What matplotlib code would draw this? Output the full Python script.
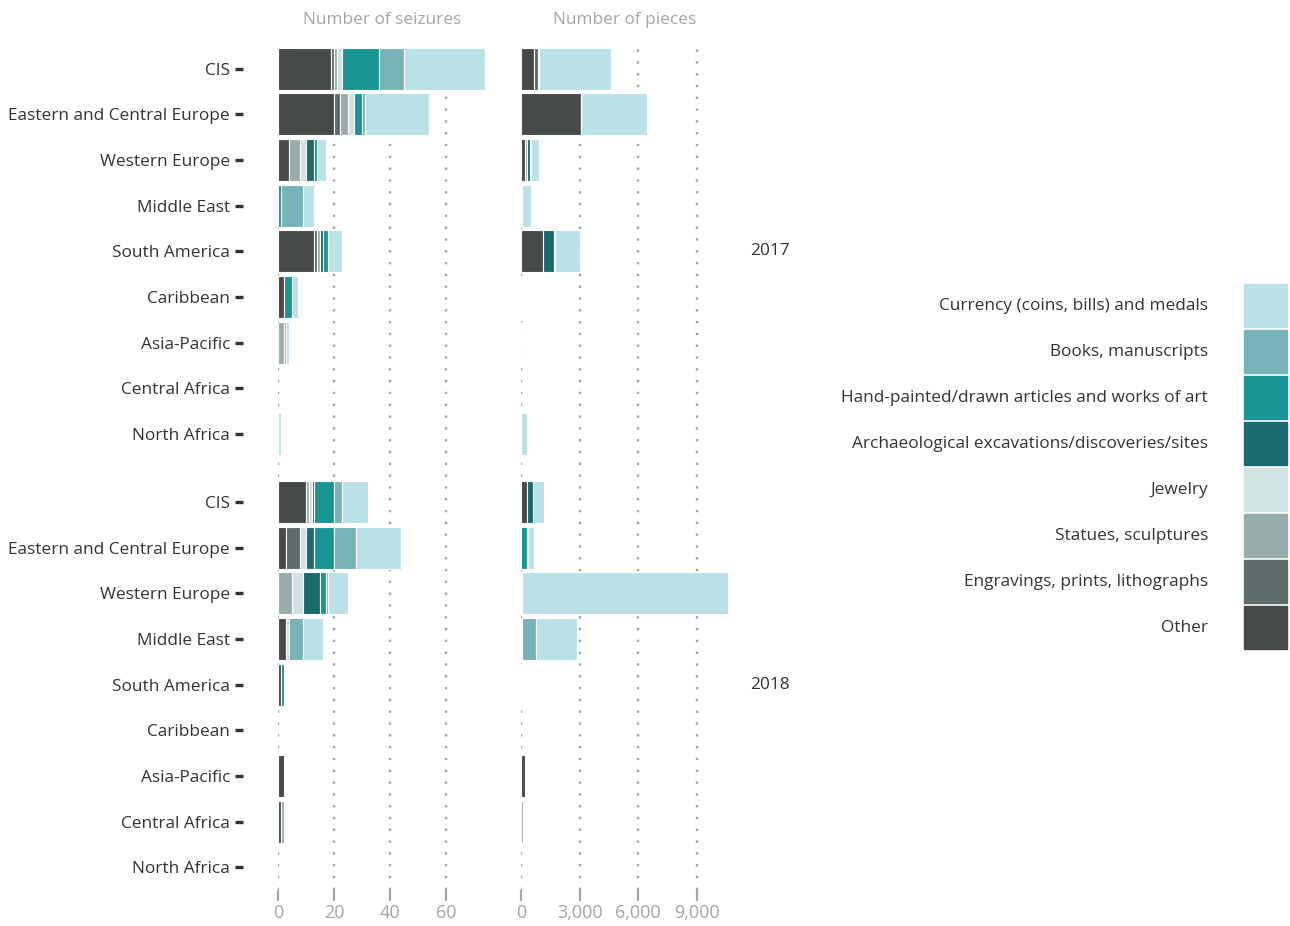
import matplotlib.pyplot as plt
import matplotlib.transforms as mtransforms
import numpy as np

plt.rcParams['font.family'] = ['Open Sans', 'DejaVu Sans']

regions = ['CIS', 'Eastern and Central Europe', 'Western Europe', 'Middle East',
           'South America', 'Caribbean', 'Asia-Pacific', 'Central Africa', 'North Africa']
years = ['2017', '2018']

categories = ['Other', 'Engravings, prints, lithographs', 'Statues, sculptures', 'Jewelry',
              'Archaeological excavations/discoveries/sites',
              'Hand-painted/drawn articles and works of art',
              'Books, manuscripts', 'Currency (coins, bills) and medals']
colors = ['#464a49', '#5d6b6a', '#98aeac', '#d0e2e1', '#1c6a70', '#1a9595', '#77b3b9', '#bae1e7']

# seizures, one row per region, columns in category order
seizures_2017 = [
    [19, 1, 1, 2, 0, 13, 9, 29],
    [20, 2, 3, 2, 0, 3, 1, 23],
    [4, 0, 4, 2, 3, 1, 0, 3],
    [0, 0, 0, 0, 0, 1, 8, 4],
    [13, 1, 1, 0, 1, 2, 0, 5],
    [2, 0, 0, 0, 0, 3, 0, 2],
    [0, 0, 2, 0, 0, 0, 1, 1],
    [0, 0, 0, 0, 0, 0, 0, 0],
    [0, 0, 0, 0, 0, 0, 0, 1],
]
seizures_2018 = [
    [10, 0, 1, 1, 1, 7, 3, 9],
    [3, 5, 0, 2, 3, 7, 8, 16],
    [0, 0, 5, 4, 6, 2, 1, 7],
    [3, 0, 0, 1, 0, 0, 5, 7],
    [1, 0, 0, 0, 0, 1, 0, 0],
    [0, 0, 0, 0, 0, 0, 0, 0],
    [2, 0, 0, 0, 0, 0, 0, 0],
    [1, 0, 1, 0, 0, 0, 0, 0],
    [0, 0, 0, 0, 0, 0, 0, 0],
]
# pieces
pieces_2017 = [
    [670, 220, 0, 0, 0, 50, 0, 3690],
    [3050, 0, 20, 0, 0, 0, 0, 3360],
    [220, 0, 70, 0, 190, 30, 0, 415],
    [0, 0, 0, 0, 0, 60, 0, 455],
    [1130, 0, 0, 0, 570, 50, 0, 1270],
    [0, 0, 0, 0, 0, 0, 0, 50],
    [0, 0, 0, 0, 0, 0, 0, 20],
    [0, 0, 0, 0, 0, 0, 0, 0],
    [0, 0, 0, 0, 0, 0, 0, 330],
]
pieces_2018 = [
    [330, 0, 0, 0, 270, 0, 0, 580],
    [0, 0, 0, 0, 0, 310, 70, 310],
    [0, 0, 0, 0, 50, 0, 0, 10590],
    [0, 0, 70, 0, 0, 0, 700, 2110],
    [30, 0, 0, 0, 0, 0, 0, 0],
    [0, 0, 0, 0, 0, 0, 0, 0],
    [200, 0, 0, 0, 0, 0, 0, 0],
    [0, 0, 80, 0, 0, 0, 0, 0],
    [0, 0, 0, 0, 0, 0, 0, 0],
]

text_col = '#333333'
grey = '#a5a5a5'
fs = 12.4

W, H = 1290, 926
fig = plt.figure(figsize=(W / 100, H / 100), dpi=100)

y17 = np.arange(len(regions))
y18 = y17 + 9.5
ypos = np.concatenate([y17, y18])


def px(x0, x1, y0, y1):
    return [x0 / W, 1 - y1 / H, (x1 - x0) / W, (y1 - y0) / H]


def panel(rect, d17, d18, xmax, ticks, ticklabels, title, show_y):
    ax = fig.add_axes(rect)
    data = np.vstack([np.array(d17), np.array(d18)]).astype(float)
    left = np.zeros(len(ypos))
    for j in range(len(categories)):
        vals = data[:, j]
        keep = vals > 0
        ax.barh(ypos[keep], vals[keep], left=left[keep], height=0.92, color=colors[j],
                edgecolor='white', linewidth=0.8, zorder=3)
        left += vals
    ax.set_xlim(0, xmax)
    ax.set_ylim(18, -0.5)
    for t in ticks:
        ax.axvline(t, color=grey, linewidth=1.7, linestyle=(0, (1, 4)), zorder=1)
    for s in ax.spines.values():
        s.set_visible(False)
    ax.set_xticks(ticks)
    ax.set_xticklabels(ticklabels)
    ax.tick_params(axis='x', length=8, width=1.6, color=grey, labelcolor=grey,
                   labelsize=13, pad=2)
    if show_y:
        ax.spines['left'].set_position(('outward', 25))
        ax.set_yticks(ypos)
        ax.set_yticklabels(regions * 2)
        ax.tick_params(axis='y', length=5.5, width=2.4, color='#333333',
                       labelcolor=text_col, labelsize=fs, pad=4)
    else:
        ax.set_yticks([])
    ax.set_title(title, color=grey, fontsize=fs, pad=16)
    return ax


ax1 = panel(px(278, 486, 46, 890), seizures_2017, seizures_2018, 74.2,
            [0, 20, 40, 60], ['0', '20', '40', '60'], 'Number of seizures', True)
ax2 = panel(px(521, 728, 46, 890), pieces_2017, pieces_2018, 10600,
            [0, 3000, 6000, 9000], ['0', '3,000', '6,000', '9,000'], 'Number of pieces', False)

# year labels
trans = mtransforms.blended_transform_factory(fig.transFigure, ax2.transData)
ax2.text(750 / W, 4, years[0], transform=trans, ha='left', va='center',
         color=text_col, fontsize=fs)
ax2.text(750 / W, 13.5, years[1], transform=trans, ha='left', va='center',
         color=text_col, fontsize=fs)

# legend
for k, j in enumerate(range(len(categories) - 1, -1, -1)):
    y0 = 284 + k * 46
    fig.patches.append(plt.Rectangle((1244 / W, 1 - (y0 + 43) / H), 43 / W, 43 / H,
                                     transform=fig.transFigure, color=colors[j]))
    fig.text(1208 / W, 1 - (y0 + 21.5) / H, categories[j], ha='right', va='center',
             color=text_col, fontsize=fs)

fig.savefig('out.png', dpi=100)
